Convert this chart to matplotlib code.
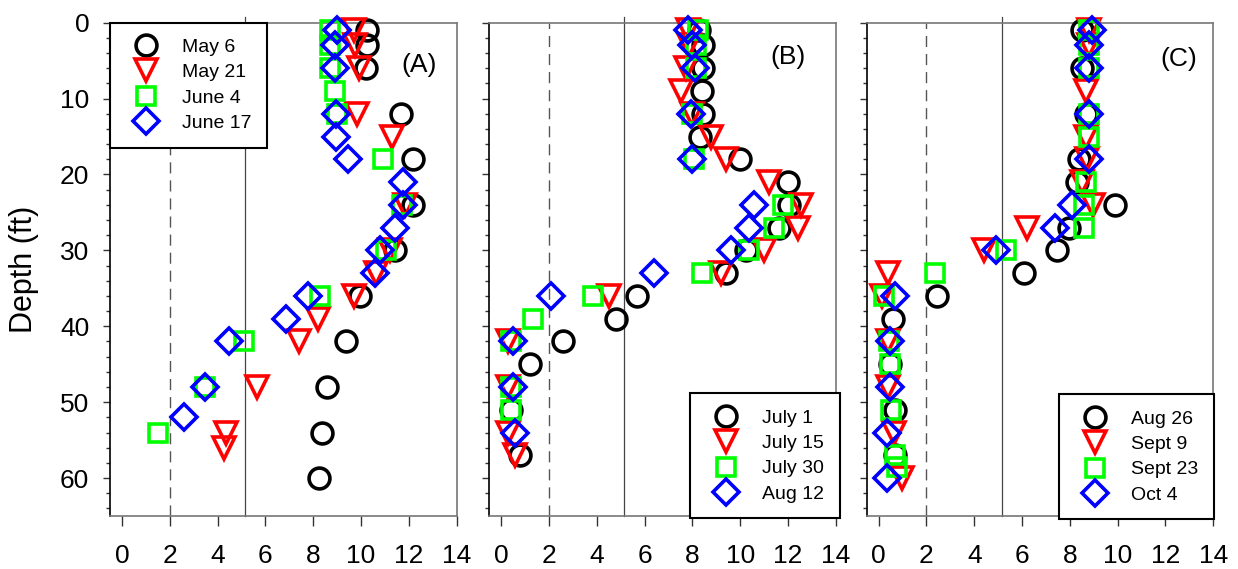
import matplotlib.pyplot as plt
from matplotlib.ticker import MultipleLocator

plt.rcParams['font.family'] = ['Liberation Sans', 'DejaVu Sans']

# ---- panel A ----
a_labels = ['May 6', 'May 21', 'June 4', 'June 17']
a_may6_depth = [1, 3, 6, 12, 18, 24, 30, 36, 42, 48, 54, 60]
a_may6 = [10.25, 10.25, 10.2, 11.67, 12.16, 12.2, 11.43, 9.97, 9.37, 8.58, 8.39, 8.26]
a_may21_depth = [1, 3, 6, 12, 15, 24, 30, 33, 36, 39, 42, 48, 54, 56]
a_may21 = [9.69, 9.76, 9.9, 9.83, 11.3, 11.85, 11.2, 10.65, 9.69, 8.19, 7.39, 5.67, 4.36, 4.28]
a_june4_depth = [1, 3, 6, 9, 12, 18, 24, 30, 36, 42, 48, 54]
a_june4 = [8.72, 8.72, 8.72, 8.9, 8.99, 10.92, 11.71, 11.06, 8.3, 5.09, 3.49, 1.49]
a_june17_depth = [1, 3, 6, 12, 15, 18, 21, 24, 27, 30, 33, 36, 39, 42, 48, 52]
a_june17 = [9.0, 8.93, 8.93, 8.97, 8.97, 9.48, 11.78, 11.78, 11.43, 10.81, 10.6, 7.77, 6.87, 4.49, 3.49, 2.58]

# ---- panel B ----
b_labels = ['July 1', 'July 15', 'July 30', 'Aug 12']
b_july1_depth = [1, 3, 6, 9, 12, 15, 18, 21, 24, 27, 30, 33, 36, 39, 42, 45, 51, 57]
b_july1 = [8.29, 8.43, 8.43, 8.4, 8.43, 8.33, 10.0, 11.98, 12.05, 11.63, 10.24, 9.4, 5.67, 4.8, 2.6, 1.21, 0.42, 0.79]
b_july15_depth = [1, 3, 6, 9, 12, 15, 18, 21, 24, 27, 30, 33, 36, 42, 48, 54, 57]
b_july15 = [7.8, 7.86, 7.72, 7.51, 8.0, 8.78, 9.4, 11.21, 12.54, 12.4, 11.0, 9.2, 4.53, 0.28, 0.28, 0.3, 0.56]
b_july30_depth = [1, 3, 6, 12, 18, 24, 27, 30, 33, 36, 39, 42, 48, 51]
b_july30 = [8.22, 8.15, 8.15, 8.0, 8.07, 11.8, 11.42, 10.35, 8.4, 3.83, 1.32, 0.42, 0.42, 0.42]
b_aug12_depth = [1, 3, 6, 12, 18, 24, 27, 30, 33, 36, 42, 48, 54]
b_aug12 = [7.8, 8.0, 8.1, 7.95, 8.0, 10.58, 10.38, 9.61, 6.41, 2.09, 0.51, 0.51, 0.56]

# ---- panel C ----
c_labels = ['Aug 26', 'Sept 9', 'Sept 23', 'Oct 4']
c_aug26_depth = [1, 6, 12, 18, 21, 24, 27, 30, 33, 36, 39, 45, 51, 57]
c_aug26 = [8.52, 8.52, 8.66, 8.38, 8.31, 9.88, 7.96, 7.47, 6.07, 2.44, 0.59, 0.49, 0.67, 0.7]
c_sept9_depth = [1, 3, 9, 15, 18, 21, 24, 27, 30, 33, 36, 42, 48, 54, 60]
c_sept9 = [8.8, 8.8, 8.66, 8.66, 8.7, 8.5, 8.99, 6.21, 4.4, 0.38, 0.14, 0.4, 0.4, 0.63, 0.98]
c_sept23_depth = [1, 3, 6, 12, 15, 21, 24, 27, 30, 33, 36, 42, 45, 51, 57, 58.5]
c_sept23 = [8.8, 8.8, 8.8, 8.8, 8.8, 8.66, 8.6, 8.59, 5.31, 2.37, 0.21, 0.45, 0.49, 0.52, 0.67, 0.75]
c_oct4_depth = [1, 3, 6, 12, 18, 24, 27, 30, 36, 42, 48, 54, 60]
c_oct4 = [8.91, 8.8, 8.8, 8.8, 8.8, 8.1, 7.4, 4.89, 0.67, 0.49, 0.49, 0.37, 0.37]

panels = [
    ('(A)', a_labels, [(a_may6, a_may6_depth), (a_may21, a_may21_depth),
                       (a_june4, a_june4_depth), (a_june17, a_june17_depth)]),
    ('(B)', b_labels, [(b_july1, b_july1_depth), (b_july15, b_july15_depth),
                       (b_july30, b_july30_depth), (b_aug12, b_aug12_depth)]),
    ('(C)', c_labels, [(c_aug26, c_aug26_depth), (c_sept9, c_sept9_depth),
                       (c_sept23, c_sept23_depth), (c_oct4, c_oct4_depth)]),
]

markers = [('o', 'black', 15), ('v', 'red', 15.5), ('s', '#00ff00', 13.5), ('D', 'blue', 13)]

W, H = 1238, 569
fig = plt.figure(figsize=(W / 100, H / 100), dpi=100)
lefts = [110, 489.3, 866.7]
axw = 346.5
top, bottom = 22.7, 516

tag_pos = [(0.893, 0.914), (0.861, 0.930), (0.900, 0.926)]
leg_anchor = [('upper left', (0, 1)), ('lower right', (1.0115, -0.0047)),
              ('lower right', (1.002, -0.0067))]

for i, (tag, labels, series) in enumerate(panels):
    ax = fig.add_axes([lefts[i] / W, 1 - bottom / H, axw / W, (bottom - top) / H])
    ax.axvline(2, color='#555555', lw=1.0, ls=(0, (8, 5)), zorder=1)
    ax.axvline(5.15, ymin=0, ymax=1.012, color='#444444', lw=0.9, zorder=1, clip_on=False)

    for (vals, depth), (m, c, ms), lab in zip(series, markers, labels):
        ax.plot(vals, depth, ls='none', marker=m, ms=ms, mfc='none', mec=c,
                mew=2.6, clip_on=False, label=lab, zorder=3)

    ax.set_xlim(-0.5, 14)
    ax.set_ylim(65, 0)
    ax.set_xticks(range(0, 15, 2))
    ax.yaxis.set_major_locator(MultipleLocator(10))
    ax.yaxis.set_minor_locator(MultipleLocator(2))
    ax.tick_params(axis='x', which='major', direction='out', length=7,
                   width=1, labelsize=19, pad=13, color='#333333')
    ax.tick_params(axis='y', which='major', direction='out', length=5,
                   width=1, labelsize=19, pad=10, color='#333333')
    ax.tick_params(axis='y', which='minor', direction='out', length=2.8,
                   width=1, color='#333333')
    if i > 0:
        ax.tick_params(axis='y', labelleft=False)
    for s in ['top', 'right', 'bottom']:
        ax.spines[s].set_color('#777777')
        ax.spines[s].set_linewidth(1.2)
    ax.spines['left'].set_color('black')
    ax.spines['left'].set_linewidth(1.2)

    ax.text(tag_pos[i][0], tag_pos[i][1], tag, transform=ax.transAxes,
            ha='center', va='center', fontsize=19)

    if i == 0:
        ax.set_ylabel('Depth (ft)', fontsize=22)
        ax.yaxis.set_label_coords(-0.205, 0.5)

    loc, anchor = leg_anchor[i]
    leg = ax.legend(loc=loc, bbox_to_anchor=anchor, borderaxespad=0, fontsize=14,
                    borderpad=0.8, handlelength=2.1, handletextpad=0.8,
                    labelspacing=0.4, fancybox=False, framealpha=1)
    frame = leg.get_frame()
    frame.set_edgecolor('black')
    frame.set_linewidth(1.5)
    leg.set_zorder(5)

fig.savefig('out.png', dpi=100)
